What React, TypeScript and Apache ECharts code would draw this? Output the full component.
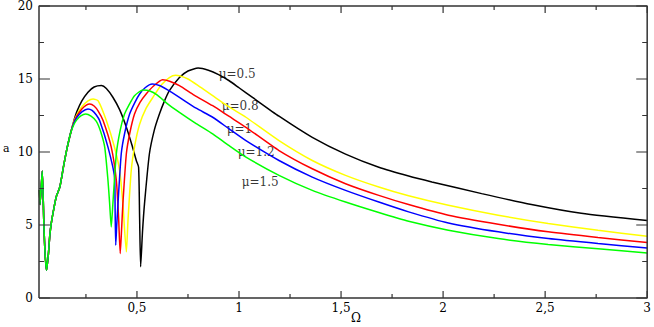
import React, { useEffect, useRef } from "react";
import * as echarts from "echarts";

// shared rising part (all curves coincide here)
const commonPart: number[][] = [
  [0.022, 7.4], [0.025, 6.4], [0.036, 8.7], [0.044, 5.0], [0.05, 3.0], [0.057, 1.9],
  [0.066, 3.0], [0.073, 4.3], [0.081, 5.2], [0.095, 6.3], [0.106, 7.0], [0.122, 7.6],
  [0.14, 9.0], [0.155, 10.1], [0.175, 11.3],
];

const mu05: number[][] = [
  [0.19, 12.1], [0.205, 12.75], [0.23, 13.5], [0.26, 14.1], [0.29, 14.45], [0.326, 14.55], [0.35, 14.35],
  [0.382, 13.75], [0.415, 12.9], [0.448, 11.7], [0.475, 10.5], [0.497, 9.4], [0.508, 8.96],
  [0.513, 5.5], [0.518, 2.14], [0.527, 4.5], [0.537, 6.46], [0.561, 9.88], [0.585, 11.5],
  [0.61, 12.6], [0.635, 13.5], [0.659, 14.2], [0.708, 15.1], [0.75, 15.55], [0.8, 15.75],
  [0.85, 15.6], [0.9, 15.3], [0.952, 14.88], [1.0, 14.4], [1.066, 13.74], [1.196, 12.45],
  [1.359, 11.0], [1.522, 9.85], [1.685, 8.95], [1.831, 8.35], [1.945, 7.95], [2.189, 7.15],
  [2.433, 6.4], [2.677, 5.8], [3.0, 5.3],
];

const mu08: number[][] = [
  [0.19, 12.05], [0.205, 12.55], [0.23, 13.1], [0.26, 13.5], [0.285, 13.63], [0.31, 13.5], [0.35, 12.15],
  [0.39, 10.33], [0.415, 8.74], [0.431, 6.46], [0.448, 3.16], [0.456, 5.3], [0.472, 8.74],
  [0.49, 10.5], [0.513, 11.9], [0.545, 13.0], [0.578, 13.74], [0.62, 14.6], [0.659, 15.1],
  [0.69, 15.25], [0.708, 15.22], [0.75, 15.0], [0.8, 14.55], [0.871, 13.86], [0.95, 13.1],
  [1.034, 12.38], [1.196, 10.78], [1.359, 9.42], [1.522, 8.4], [1.685, 7.6], [1.831, 7.0],
  [2.026, 6.35], [2.27, 5.67], [2.515, 5.1], [2.759, 4.64], [3.0, 4.23],
];

const mu1: number[][] = [
  [0.19, 12.0], [0.205, 12.45], [0.23, 12.95], [0.25, 13.2], [0.269, 13.29], [0.29, 13.15], [0.31, 12.8],
  [0.334, 12.15], [0.374, 10.33], [0.399, 8.05], [0.41, 5.5], [0.418, 3.05], [0.425, 4.8],
  [0.431, 6.46], [0.448, 9.88], [0.465, 11.3], [0.488, 12.6], [0.515, 13.4], [0.545, 13.97],
  [0.58, 14.5], [0.625, 14.95], [0.66, 14.85], [0.708, 14.54], [0.78, 13.9], [0.871, 13.17],
  [0.95, 12.45], [1.034, 11.69], [1.196, 10.1], [1.359, 8.85], [1.522, 7.83], [1.685, 7.03],
  [1.831, 6.4], [2.026, 5.67], [2.27, 5.05], [2.515, 4.53], [2.759, 4.14], [3.0, 3.8],
];

const mu12: number[][] = [
  [0.19, 11.95], [0.205, 12.35], [0.23, 12.75], [0.26, 12.95], [0.28, 12.85], [0.3, 12.55], [0.317, 12.15],
  [0.358, 10.33], [0.39, 8.28], [0.393, 6.0], [0.396, 3.62], [0.401, 5.0], [0.407, 6.46],
  [0.423, 9.88], [0.44, 11.3], [0.464, 12.6], [0.49, 13.4], [0.513, 13.97], [0.54, 14.4],
  [0.575, 14.65], [0.61, 14.55], [0.65, 14.25], [0.708, 13.74], [0.79, 13.0], [0.871, 12.38],
  [0.95, 11.6], [1.034, 10.78], [1.196, 9.42], [1.359, 8.28], [1.522, 7.37], [1.685, 6.57],
  [1.831, 5.9], [2.026, 5.14], [2.27, 4.53], [2.515, 4.07], [2.759, 3.73], [3.0, 3.43],
];

const mu15: number[][] = [
  [0.19, 11.85], [0.205, 12.2], [0.225, 12.48], [0.249, 12.6], [0.275, 12.45], [0.301, 12.1], [0.322, 11.4],
  [0.342, 10.33], [0.358, 8.05], [0.366, 6.5], [0.374, 4.87], [0.382, 6.46], [0.399, 9.88],
  [0.418, 11.5], [0.439, 12.6], [0.46, 13.2], [0.488, 13.86], [0.53, 14.25], [0.56, 14.2],
  [0.6, 13.9], [0.65, 13.3], [0.708, 12.72], [0.79, 11.95], [0.871, 11.24], [0.95, 10.45],
  [1.034, 9.65], [1.196, 8.4], [1.359, 7.37], [1.522, 6.57], [1.685, 5.85], [1.831, 5.25],
  [2.026, 4.64], [2.27, 4.07], [2.515, 3.67], [2.759, 3.37], [3.0, 3.09],
];

const seriesNames = ["μ=0.5", "μ=0.8", "μ=1", "μ=1.2", "μ=1.5"];
const seriesData = [mu05, mu08, mu1, mu12, mu15];
const seriesColors = ["#000000", "#ffff00", "#ff0000", "#0000ff", "#00ff00"];
const labelAnchors: number[][] = [
  [0.898, 15.36], [0.913, 13.17], [0.9375, 11.6], [0.991, 10.03], [1.011, 7.92],
];

const X_MIN = 0.02;
const X_MAX = 3;
const xMajorTicks = [0.5, 1, 1.5, 2, 2.5, 3];
const xMinorTicks = [0.25, 0.75, 1.25, 1.75, 2.25, 2.75];
const yMajorTicks = [0, 5, 10, 15, 20];
const yMinorTicks = [2.5, 7.5, 12.5, 17.5];

const FONT = "DejaVu Serif";
const AXIS_COLOR = "#333";

const GRID = { left: 39, right: 4, top: 5, bottom: 29 };
const W = 654;
const H = 327;

export default function App() {
  const ref = useRef<HTMLDivElement>(null);

  useEffect(() => {
    document.body.style.margin = "0";
    if (!ref.current) return;
    const chart = echarts.init(ref.current, null, { renderer: "svg" });

    const fmt = (v: number) => String(v).replace(".", ",");
    const Y_MIN = yMajorTicks[0];
    const Y_MAX = yMajorTicks[yMajorTicks.length - 1];

    // pixel -> data unit factors (for tick lengths expressed in pixels)
    const plotW = W - GRID.left - GRID.right;
    const plotH = H - GRID.top - GRID.bottom;
    const dxPerPx = (X_MAX - X_MIN) / plotW;
    const dyPerPx = (Y_MAX - Y_MIN) / plotH;

    // frame as a closed polyline through the plot corners
    const frameData: any[] = [
      [X_MIN, Y_MIN], [X_MAX, Y_MIN], [X_MAX, Y_MAX], [X_MIN, Y_MAX], [X_MIN, Y_MIN],
    ];

    // ticks as broken polyline segments (inside, mirrored on both sides)
    const tickData: any[] = [];
    const brk = (x: number) => tickData.push([x, "-"]);
    const addX = (v: number, lenPx: number) => {
      const d = lenPx * dyPerPx;
      tickData.push([v, Y_MIN], [v, Y_MIN + d]); brk(v);
      tickData.push([v, Y_MAX], [v, Y_MAX - d]); brk(v);
    };
    const addY = (v: number, lenPx: number) => {
      const d = lenPx * dxPerPx;
      tickData.push([X_MIN, v], [X_MIN + d, v]); tickData.push(["-", v]);
      tickData.push([X_MAX, v], [X_MAX - d, v]); tickData.push(["-", v]);
    };
    xMajorTicks.forEach((v) => addX(v, 7));
    xMinorTicks.forEach((v) => addX(v, 4));
    yMajorTicks.forEach((v) => addY(v, 11));
    yMinorTicks.forEach((v) => addY(v, 5));

    const series: any[] = seriesData.map((d, i) => ({
      type: "line",
      name: seriesNames[i],
      data: [...commonPart, ...d],
      showSymbol: false,
      smooth: 0.2,
      lineStyle: { color: seriesColors[i], width: 1.5 },
      itemStyle: { color: seriesColors[i] },
    }));

    series.push({
      type: "line",
      name: "frame",
      data: frameData,
      showSymbol: false,
      clip: false,
      lineStyle: { color: AXIS_COLOR, width: 1.5 },
      itemStyle: { color: AXIS_COLOR },
      z: 10,
    });

    series.push({
      type: "line",
      name: "ticks",
      data: tickData,
      showSymbol: false,
      connectNulls: false,
      clip: false,
      lineStyle: { color: AXIS_COLOR, width: 1.2 },
      itemStyle: { color: AXIS_COLOR },
      z: 10,
    });

    series.push({
      type: "scatter",
      data: labelAnchors.map((c, i) => ({ value: c, name: seriesNames[i] })),
      symbolSize: 1,
      itemStyle: { color: "transparent" },
      label: {
        show: true, position: "right", distance: 0, formatter: "{b}",
        fontFamily: FONT, fontSize: 12, color: "#000",
      },
    });

    chart.setOption({
      animation: false,
      backgroundColor: "#fff",
      tooltip: { show: false },
      grid: { ...GRID },
      xAxis: {
        type: "value", min: X_MIN, max: X_MAX,
        splitLine: { show: false },
        axisLine: { show: false, onZero: false },
        axisTick: { show: false },
        axisLabel: {
          show: true, customValues: xMajorTicks, formatter: fmt, margin: 4,
          fontFamily: FONT, fontSize: 12, color: "#000",
        },
      },
      yAxis: {
        type: "value", min: Y_MIN, max: Y_MAX, interval: 5,
        splitLine: { show: false },
        axisLine: { show: false, onZero: false },
        axisTick: { show: false },
        axisLabel: { show: true, margin: 6, fontFamily: FONT, fontSize: 12, color: "#000" },
      },
      series,
      graphic: [
        { type: "text", left: 3, top: 143, style: { text: "a", fontFamily: FONT, fontSize: 11, fill: "#000" } },
        { type: "text", left: 351, top: 312, style: { text: "Ω", fontFamily: FONT, fontSize: 12, fill: "#000" } },
      ],
    });

    return () => chart.dispose();
  }, []);

  return <div ref={ref} style={{ width: W, height: H }} />;
}
